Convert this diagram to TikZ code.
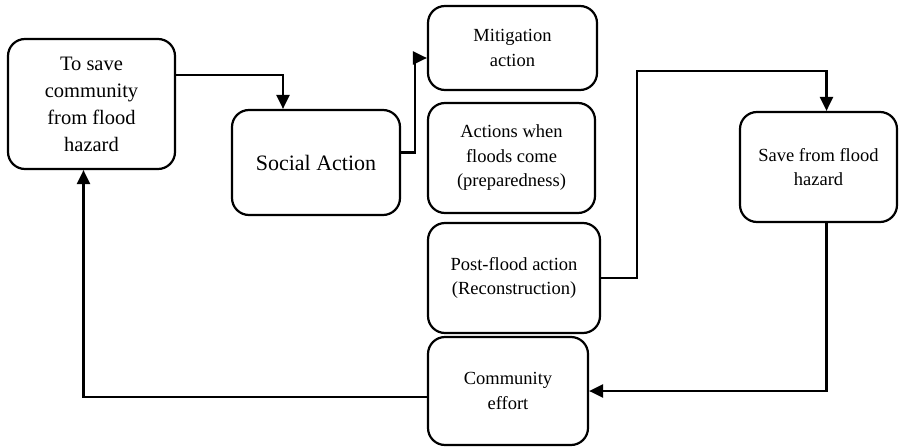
\documentclass[tikz,border=0pt]{standalone}
\usepackage{fontspec}
\setmainfont{Liberation Serif}
\usetikzlibrary{arrows.meta}
\begin{document}
\begin{tikzpicture}[x=1pt,y=-1pt,
  box/.style={draw,line width=2.2pt,rounded corners=17pt,align=center,
    inner sep=2pt,font=\fontsize{18.5}{24.5}\selectfont},
  arr/.style={line width=2.2pt,-{Triangle[length=14pt,width=13pt]}}]
\useasboundingbox (0,0) rectangle (902,447);
\node[box,minimum width=167pt,minimum height=130pt,font=\fontsize{20.5}{27}\selectfont]
  (save) at (91.5,104) {To save\\community\\from flood\\hazard};
\node[box,minimum width=168pt,minimum height=105pt,font=\fontsize{22}{26}\selectfont]
  (social) at (316,162.5) {Social Action};
\node[box,minimum width=169pt,minimum height=84pt] (mitig) at (512.5,48) {Mitigation\\action};
\node[box,minimum width=167pt,minimum height=110pt] (prep) at (511.5,158) {Actions when\\floods come\\(preparedness)};
\node[box,minimum width=172pt,minimum height=110pt] (post) at (514,278) {Post-flood action\\(Reconstruction)};
\node[box,minimum width=160pt,minimum height=108pt] (effort) at (508,391) {Community\\effort};
\node[box,minimum width=157pt,minimum height=110pt] (safe) at (818.5,167) {Save from flood\\hazard};
\coordinate (turn) at (637,71);
\draw[arr] (save.east |- 0,75) -| ([xshift=-33pt]social.north);
\draw[arr] ([yshift=10pt]social.east) -- ++(14,0) |- ([yshift=-10pt]mitig.west);
\draw[arr] (post.east) -| (turn) -| ([xshift=8pt]safe.north);
\draw[arr] ([xshift=8pt]safe.south) |- (effort.east);
\draw[arr] ([yshift=-6pt]effort.west) -| ([xshift=-8pt]save.south);
\end{tikzpicture}
\end{document}
